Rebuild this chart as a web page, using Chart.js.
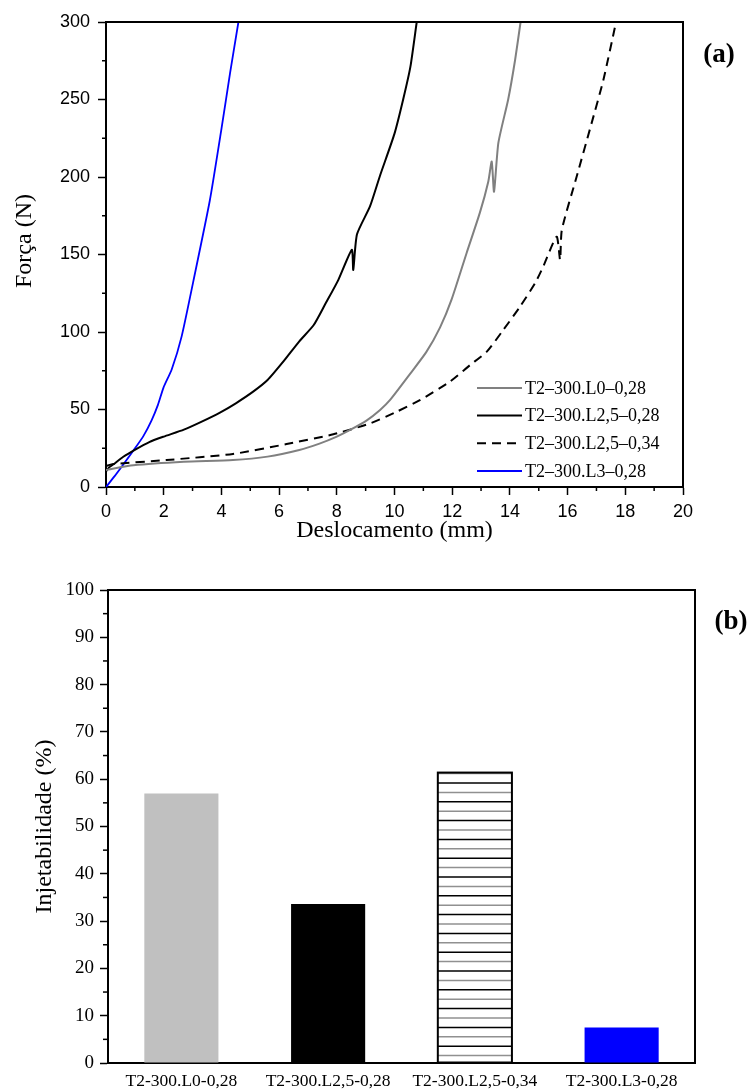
<!DOCTYPE html>
<html>
<head>
<meta charset="utf-8">
<script src="https://cdn.jsdelivr.net/npm/chart.js@4.4.1/dist/chart.umd.min.js"></script>
<style>
  html, body { margin: 0; padding: 0; background: #fff; }
  #wrapA { position: absolute; left: 0; top: 0; width: 752px; height: 550px; }
  #wrapB { position: absolute; left: 0; top: 555px; width: 752px; height: 535px; }
</style>
</head>
<body>
<div id="wrapA"><canvas id="forceChart" width="752" height="550"></canvas></div>
<div id="wrapB"><canvas id="injChart" width="752" height="535"></canvas></div>
<script>
// (a) Força x Deslocamento
const seriesNames = ["T2\u2013300.L0\u20130,28", "T2\u2013300.L2,5\u20130,28", "T2\u2013300.L2,5\u20130,34", "T2\u2013300.L3\u20130,28"];

const l0X = [0, 0.95, 2.7, 4.4, 5.6, 6.7, 7.4, 8.0, 8.46, 9.04, 9.5, 9.84, 10.54, 11.1, 11.58, 11.98, 12.5, 12.96, 13.25, 13.37, 13.45, 13.6, 13.94, 14.18, 14.37];
const l0Y = [11, 14, 16.3, 17.4, 19.6, 23.9, 28, 32.5, 36.8, 43, 49.7, 56, 73, 87, 103, 121, 151, 177, 197, 210, 190.5, 222, 250, 275.5, 300];

const l25aX = [0, 0.1, 0.25, 0.6, 1.0, 1.5, 2.0, 2.7, 3.3, 3.95, 4.5, 5.1, 5.6, 6.15, 6.7, 7.2, 7.6, 8.05, 8.52, 8.57, 8.7, 9.15, 9.5, 10.0, 10.3, 10.55, 10.77];
const l25aY = [10, 12.5, 14.5, 19.5, 24, 29, 32.5, 37, 42, 48, 54, 61.5, 69, 81, 94, 104.5, 118, 133.5, 153, 140, 163, 181, 201, 228, 250, 271, 300];

const l25bX = [0, 0.25, 2.1, 4.4, 6.26, 7.88, 9.15, 10.08, 10.88, 11.92, 12.62, 13.2, 13.77, 14.35, 14.87, 15.15, 15.62, 15.74, 15.8, 16.31, 16.83, 17.24, 17.68];
const l25bY = [13.5, 14.8, 17.4, 21.3, 27.7, 34, 41, 48.6, 56, 68, 78.7, 87.3, 101.3, 116.3, 131.4, 142, 161.5, 146.5, 165.8, 200, 234.6, 262.6, 300];

const l3X = [0, 0.3, 0.6, 0.95, 1.3, 1.58, 1.8, 1.99, 2.28, 2.62, 3.03, 3.6, 4.01, 4.3, 4.59];
const l3Y = [0, 7, 14.5, 23.5, 33, 43, 53, 64, 76, 97, 133, 185, 232, 267, 300];

// (b) Injetabilidade
const barLabels = ["T2-300.L0-0,28", "T2-300.L2,5-0,28", "T2-300.L2,5-0,34", "T2-300.L3-0,28"];
const barValues = [57.0, 33.6, 61.4, 7.5];

const zip = (xs, ys) => xs.map((x, i) => ({ x: x, y: ys[i] }));

// ticks menores + moldura
const minorTicks = {
  id: "minorTicks",
  afterDraw(chart, args, opts) {
    const ctx = chart.ctx;
    const a = chart.chartArea;
    ctx.save();
    ctx.strokeStyle = "#000";
    ctx.lineWidth = 1.5;
    (opts.axes || []).forEach(ax => {
      const sc = chart.scales[ax.id];
      for (let v = sc.min; v <= sc.max + 1e-9; v += ax.step) {
        const r = v / ax.major;
        if (Math.abs(r - Math.round(r)) < 1e-6) continue;
        const p = sc.getPixelForValue(v);
        ctx.beginPath();
        if (sc.isHorizontal()) { ctx.moveTo(p, a.bottom); ctx.lineTo(p, a.bottom + ax.len); }
        else { ctx.moveTo(a.left, p); ctx.lineTo(a.left - ax.len, p); }
        ctx.stroke();
      }
    });
    // lados de cima e direita
    ctx.lineWidth = 2;
    ctx.beginPath();
    ctx.moveTo(a.left, a.top);
    ctx.lineTo(a.right, a.top);
    ctx.lineTo(a.right, a.bottom);
    ctx.stroke();
    ctx.restore();
  }
};

// rótulo (a)/(b) e título vertical livre
const panelLabel = {
  id: "panelLabel",
  afterDraw(chart, args, opts) {
    const ctx = chart.ctx;
    ctx.save();
    ctx.fillStyle = "#000";
    ctx.font = "bold 27px 'Liberation Serif', 'Times New Roman', serif";
    ctx.textAlign = "center";
    ctx.textBaseline = "middle";
    ctx.fillText(opts.text, opts.x, opts.y);
    if (opts.yTitle) {
      ctx.font = "24px 'Liberation Serif', 'Times New Roman', serif";
      ctx.translate(opts.yTitle.x, opts.yTitle.y);
      ctx.rotate(-Math.PI / 2);
      ctx.fillText(opts.yTitle.text, 0, 0);
    }
    ctx.restore();
  }
};

// legenda dentro do gráfico
const insideLegend = {
  id: "insideLegend",
  afterDraw(chart, args, opts) {
    if (!opts.show) return;
    const ctx = chart.ctx;
    const a = chart.chartArea;
    const x0 = a.right - opts.fromRight;
    let y = a.bottom - opts.fromBottom - (chart.data.datasets.length - 1) * opts.rowH;
    ctx.save();
    ctx.font = "18px 'Liberation Serif', 'Times New Roman', serif";
    ctx.textBaseline = "middle";
    ctx.fillStyle = "#000";
    chart.data.datasets.forEach(ds => {
      ctx.strokeStyle = ds.borderColor;
      ctx.lineWidth = 2;
      ctx.setLineDash(ds.borderDash || []);
      ctx.beginPath();
      ctx.moveTo(x0, y);
      ctx.lineTo(x0 + 45, y);
      ctx.stroke();
      ctx.setLineDash([]);
      ctx.fillText(ds.label, x0 + 48, y + 1);
      y += opts.rowH;
    });
    ctx.restore();
  }
};

const sansTick = { family: "'Liberation Sans', Arial, sans-serif", size: 18 };
const serifTitle = { family: "'Liberation Serif', 'Times New Roman', serif", size: 24 };

new Chart(document.getElementById("forceChart"), {
  type: "line",
  data: {
    datasets: [
      { label: seriesNames[0], data: zip(l0X, l0Y), borderColor: "#808080", borderWidth: 2 },
      { label: seriesNames[1], data: zip(l25aX, l25aY), borderColor: "#000000", borderWidth: 2 },
      { label: seriesNames[2], data: zip(l25bX, l25bY), borderColor: "#000000", borderWidth: 2, borderDash: [9, 6] },
      { label: seriesNames[3], data: zip(l3X, l3Y), borderColor: "#0000ff", borderWidth: 1.8 }
    ]
  },
  options: {
    responsive: false,
    animation: false,
    layout: { padding: { left: 0, top: 22, right: 69, bottom: 0 } },
    elements: { point: { radius: 0 }, line: { tension: 0.2 } },
    plugins: {
      legend: { display: false },
      tooltip: { enabled: false },
      minorTicks: { axes: [{ id: "x", step: 1, major: 2, len: 4 }, { id: "y", step: 25, major: 50, len: 4 }] },
      panelLabel: { text: "(a)", x: 719, y: 55, yTitle: { text: "Força (N)", x: 25, y: 241 } },
      insideLegend: { show: true, fromRight: 206, fromBottom: 16, rowH: 27.7 }
    },
    scales: {
      x: {
        type: "linear", min: 0, max: 20,
        afterFit: s => { s.height = 63; },
        ticks: { stepSize: 2, color: "#000", font: sansTick, padding: 6, maxRotation: 0 },
        grid: { drawOnChartArea: false, drawTicks: true, tickLength: 8, tickWidth: 1.5, tickColor: "#000" },
        border: { display: true, color: "#000", width: 2 },
        title: { display: true, text: "Deslocamento (mm)", color: "#000", font: serifTitle, padding: { top: 0, bottom: 5 } }
      },
      y: {
        min: 0, max: 300,
        afterFit: s => { s.width = 106; },
        ticks: { stepSize: 50, color: "#000", font: sansTick, padding: 8 },
        grid: { drawOnChartArea: false, drawTicks: true, tickLength: 8, tickWidth: 1.5, tickColor: "#000" },
        border: { display: true, color: "#000", width: 2 }
      }
    }
  },
  plugins: [minorTicks, panelLabel, insideLegend]
});

// hachura horizontal na barra L2,5-0,34
const hatchBar = {
  id: "hatchBar",
  afterDatasetsDraw(chart, args, opts) {
    const bar = chart.getDatasetMeta(0).data[opts.index];
    if (!bar) return;
    const ctx = chart.ctx;
    const left = bar.x - bar.width / 2, right = bar.x + bar.width / 2;
    ctx.save();
    ctx.lineWidth = 1.5;
    let k = 0;
    for (let y = bar.y + 1; y < bar.base - 3; y += opts.gap) {
      ctx.strokeStyle = k % 2 === 0 ? "#909090" : "#000";
      ctx.beginPath();
      ctx.moveTo(left, y);
      ctx.lineTo(right, y);
      ctx.stroke();
      k++;
    }
    ctx.lineWidth = 2;
    ctx.strokeStyle = "#000";
    ctx.strokeRect(left, bar.y, bar.width, bar.base - bar.y);
    ctx.restore();
  }
};

const serifTick = { family: "'Liberation Serif', 'Times New Roman', serif", size: 19 };

new Chart(document.getElementById("injChart"), {
  type: "bar",
  data: {
    labels: barLabels,
    datasets: [{
      data: barValues,
      backgroundColor: ["#c0c0c0", "#000000", "#ffffff", "#0000ff"],
      borderWidth: 0,
      categoryPercentage: 1,
      barPercentage: 0.505
    }]
  },
  options: {
    responsive: false,
    animation: false,
    layout: { padding: { left: 0, top: 35, right: 57, bottom: 0 } },
    plugins: {
      legend: { display: false },
      tooltip: { enabled: false },
      minorTicks: { axes: [{ id: "y", step: 5, major: 10, len: 5 }] },
      panelLabel: { text: "(b)", x: 731, y: 67 },
      insideLegend: { show: false },
      hatchBar: { index: 2, gap: 9.4 }
    },
    scales: {
      x: {
        afterFit: s => { s.height = 27; },
        ticks: { color: "#000", font: { family: serifTick.family, size: 17.5 }, padding: 8, maxRotation: 0, autoSkip: false },
        grid: { drawOnChartArea: false, drawTicks: false },
        border: { display: true, color: "#000", width: 2 }
      },
      y: {
        min: 0, max: 100,
        afterFit: s => { s.width = 108; },
        ticks: { stepSize: 10, color: "#000", font: serifTick, padding: 6 },
        grid: { drawOnChartArea: false, drawTicks: true, tickLength: 8, tickWidth: 1.5, tickColor: "#000" },
        border: { display: true, color: "#000", width: 2 },
        title: { display: true, text: "Injetabilidade (%)", color: "#000", font: serifTitle, padding: { top: 30, bottom: 0 } }
      }
    }
  },
  plugins: [minorTicks, panelLabel, insideLegend, hatchBar]
});
</script>
</body>
</html>
